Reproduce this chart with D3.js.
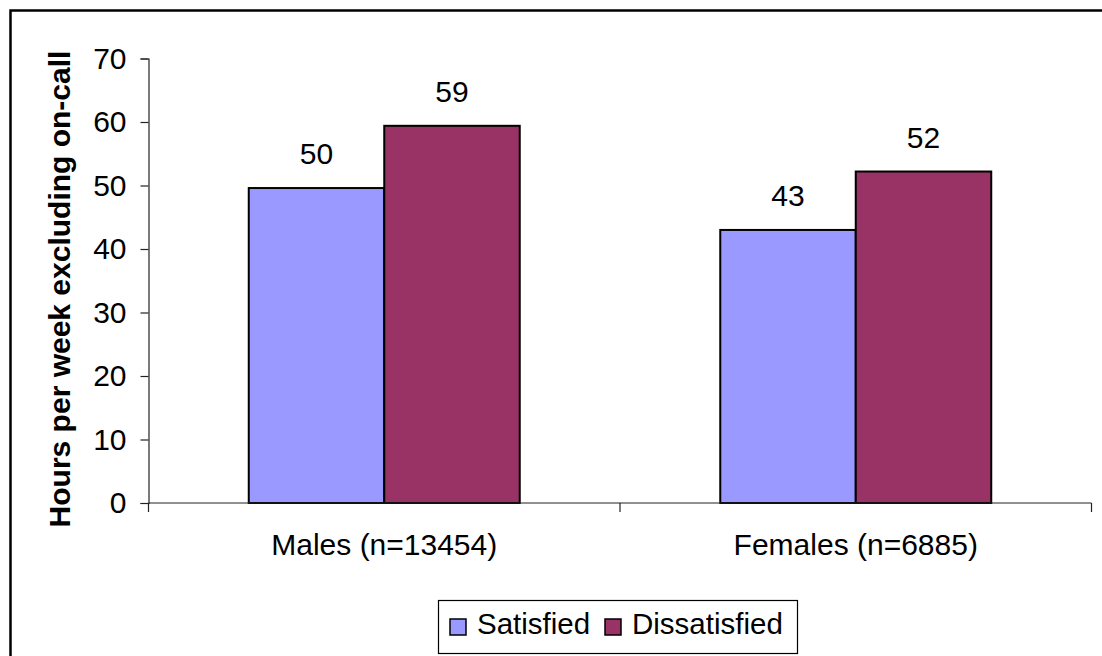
<!DOCTYPE html>
<html>
<head>
<meta charset="utf-8">
<script src="https://cdn.jsdelivr.net/npm/d3@7"></script>
<style>
  html, body { margin: 0; padding: 0; background: #fff; }
  svg { display: block; font-family: "Liberation Sans", Arial, sans-serif; }
</style>
</head>
<body>
<svg id="chart" width="1102" height="656"></svg>
<script>
// Weekly hours (excluding on-call) by gender and satisfaction
const categories = ["Males (n=13454)", "Females (n=6885)"];
const seriesNames = ["Satisfied", "Dissatisfied"];
const satisfied = [49.6, 43.0];
const dissatisfied = [59.4, 52.2];
const yTicks = [0, 10, 20, 30, 40, 50, 60, 70];
const colors = ["#9999FF", "#993366"];

const seriesValues = [satisfied, dissatisfied];
const rows = categories.map((c, i) => ({
  category: c,
  values: seriesNames.map((s, k) => ({ series: s, value: seriesValues[k][i], color: colors[k] }))
}));

const svg = d3.select("#chart");

// Outer frame
svg.append("rect")
  .attr("x", 10.5).attr("y", 10.5)
  .attr("width", 1100).attr("height", 660)
  .attr("fill", "none").attr("stroke", "#000").attr("stroke-width", 2.5);

const plot = { left: 148.5, right: 1091.5, top: 58.5, bottom: 503 };

const x0 = d3.scaleBand().domain(categories).range([plot.left, plot.right]).padding(0);
const x1 = d3.scaleBand().domain(seriesNames).range([0, x0.bandwidth()])
  .paddingInner(0).paddingOuter(0.74);
const y = d3.scaleLinear().domain([0, 70]).range([plot.bottom, plot.top]);

// Bars
const groups = svg.append("g").selectAll("g").data(rows).join("g")
  .attr("transform", d => `translate(${x0(d.category)},0)`);

groups.selectAll("rect").data(d => d.values).join("rect")
  .attr("x", d => x1(d.series))
  .attr("y", d => y(d.value))
  .attr("width", x1.bandwidth())
  .attr("height", d => y(0) - y(d.value))
  .attr("fill", d => d.color)
  .attr("stroke", "#000").attr("stroke-width", 2);

// Value labels
groups.selectAll("text").data(d => d.values).join("text")
  .attr("x", d => x1(d.series) + x1.bandwidth() / 2)
  .attr("y", d => y(d.value) - 24)
  .attr("text-anchor", "middle")
  .attr("font-size", 30)
  .attr("fill", "#000")
  .text(d => d3.format(".0f")(d.value));

// Y axis
const yAxis = d3.axisLeft(y).tickValues(yTicks).tickSize(8).tickPadding(14).tickFormat(d3.format("d"));
const yg = svg.append("g").attr("transform", `translate(${plot.left},0)`).call(yAxis);
yg.select(".domain").attr("stroke", "#222").attr("stroke-width", 1.2);
yg.selectAll(".tick line").attr("stroke", "#222").attr("stroke-width", 1.2);
yg.selectAll(".tick text").attr("font-size", 30).attr("fill", "#000")
  .attr("font-family", "Liberation Sans, Arial, sans-serif");

// X axis: baseline with ticks at category boundaries
const xg = svg.append("g");
xg.append("line")
  .attr("x1", plot.left).attr("x2", plot.right)
  .attr("y1", y(0)).attr("y2", y(0))
  .attr("stroke", "#222").attr("stroke-width", 1.2);
const boundaries = categories.map(c => x0(c)).concat([x0(categories[categories.length - 1]) + x0.bandwidth()]);
xg.selectAll("line.tick").data(boundaries).join("line")
  .attr("class", "tick")
  .attr("x1", d => d).attr("x2", d => d)
  .attr("y1", y(0)).attr("y2", y(0) + 9)
  .attr("stroke", "#222").attr("stroke-width", 1.2);
xg.selectAll("text").data(categories).join("text")
  .attr("x", d => x0(d) + x0.bandwidth() / 2)
  .attr("y", 555)
  .attr("text-anchor", "middle")
  .attr("font-size", 30)
  .attr("fill", "#000")
  .text(d => d);

// Y axis title
svg.append("text")
  .attr("transform", `translate(70,289) rotate(-90)`)
  .attr("text-anchor", "middle")
  .attr("font-size", 30)
  .attr("font-weight", "bold")
  .attr("fill", "#000")
  .text("Hours per week excluding on-call");

// Legend
const legend = svg.append("g");
legend.append("rect")
  .attr("x", 438.5).attr("y", 600.5).attr("width", 359).attr("height", 53)
  .attr("fill", "#fff").attr("stroke", "#000").attr("stroke-width", 1.2);
const legendX = [450, 605];
const items = legend.selectAll("g").data(seriesNames).join("g")
  .attr("transform", (d, i) => `translate(${legendX[i]},619)`);
items.append("rect")
  .attr("width", 16).attr("height", 16)
  .attr("fill", (d, i) => colors[i])
  .attr("stroke", "#000").attr("stroke-width", 1.5);
items.append("text")
  .attr("x", 27).attr("y", 15)
  .attr("font-size", 29.5)
  .attr("fill", "#000")
  .text(d => d);
</script>
</body>
</html>
